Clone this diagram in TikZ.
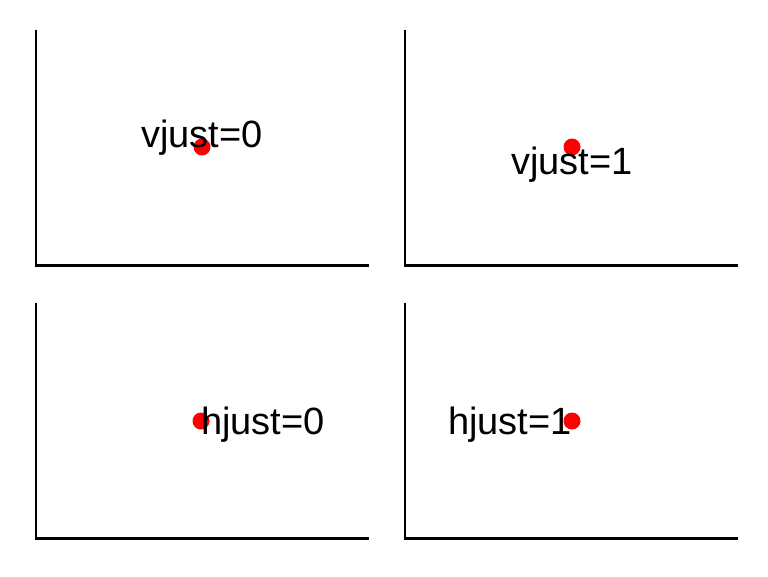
\documentclass[tikz,border=0pt]{standalone}
\usepackage{fontspec}
\setmainfont{Liberation Sans}
\tikzset{
	axisline/.style={line width=1.6pt},
	reddot/.style={circle,fill=red,inner sep=0pt,minimum size=12.75pt},
	lbl/.style={inner sep=0pt,font=\fontsize{28.5}{32}\selectfont}
}
\begin{document}
\begin{tikzpicture}[x=0.75pt,y=-0.75pt]
	\useasboundingbox (0,0) rectangle (768,576);
	% axes of the four panels
	\draw[axisline] (36,29.5) -- (36,265.5) -- (368.5,265.5);
	\draw[axisline] (405,29.5) -- (405,265.5) -- (737.5,265.5);
	\draw[axisline] (36,302.5) -- (36,538.5) -- (368.5,538.5);
	\draw[axisline] (405,302.5) -- (405,538.5) -- (737.5,538.5);
	% points
	\node[reddot] (p1) at (202,147) {};
	\node[reddot] (p2) at (572,147) {};
	\node[reddot] (p3) at (201,421) {};
	\node[reddot] (p4) at (572,421) {};
	% labels
	\node[lbl,anchor=base] (l1) at (p1.center) {vjust=0};
	\node[lbl,anchor=north] (l2) at (p2.center) {vjust=1};
	\node[lbl,anchor=base west,yshift=-9.75pt] (l3) at (p3.center) {hjust=0};
	\node[lbl,anchor=base east,yshift=-9.75pt] (l4) at (p4.center) {hjust=1};
\end{tikzpicture}
\end{document}
